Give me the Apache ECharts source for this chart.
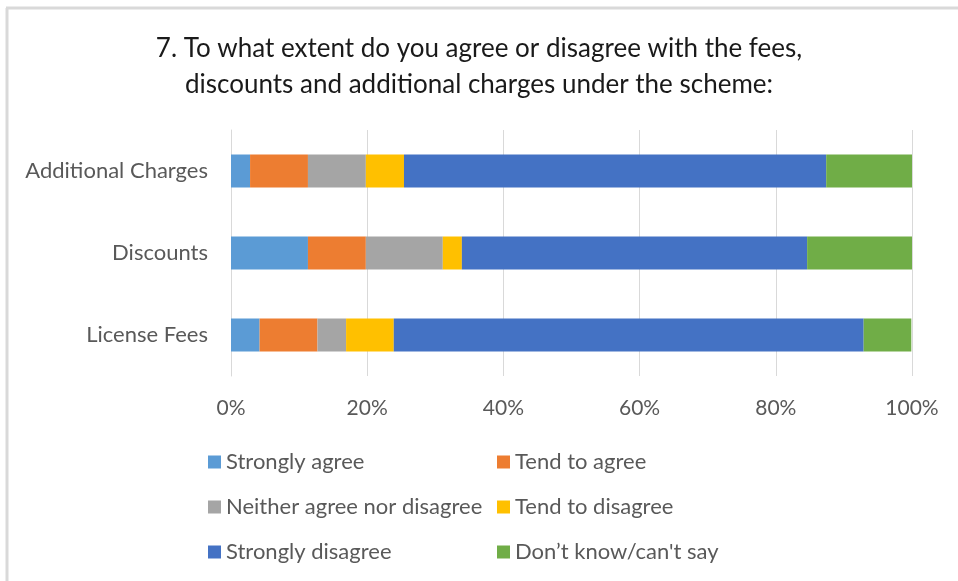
<!DOCTYPE html>
<html>
<head>
<meta charset="utf-8">
<script src="https://cdn.jsdelivr.net/npm/echarts@6/dist/echarts.min.js"></script>
<style>
  html, body { margin: 0; padding: 0; background: #fff; }
  #chart { width: 958px; height: 581px; }
</style>
</head>
<body>
<div id="chart"></div>
<script>
// Survey question 7: responses per topic, as share of respondents (%)
const categories = ['License Fees', 'Discounts', 'Additional Charges'];
const stronglyAgree    = [4.2, 11.3, 2.8];
const tendToAgree      = [8.5, 8.5, 8.5];
const neither          = [4.2, 11.3, 8.5];
const tendToDisagree   = [7.0, 2.8, 5.6];
const stronglyDisagree = [69.0, 50.7, 62.0];
const dontKnow         = [7.0, 15.5, 12.7];
const tickLabels = ['0%', '20%', '40%', '60%', '80%', '100%'];

const seriesDefs = [
  { name: 'Strongly agree', data: stronglyAgree, color: '#5B9BD5' },
  { name: 'Tend to agree', data: tendToAgree, color: '#ED7D31' },
  { name: 'Neither agree nor disagree', data: neither, color: '#A5A5A5' },
  { name: 'Tend to disagree', data: tendToDisagree, color: '#FFC000' },
  { name: 'Strongly disagree', data: stronglyDisagree, color: '#4472C4' },
  { name: 'Don\u2019t know/can\'t say', data: dontKnow, color: '#70AD47' }
];

const FONT = 'Lato';
const grey = '#595959';

const legendText = { color: grey, fontSize: 22, fontFamily: FONT, lineHeight: 22 };
const legendCommon = {
  orient: 'vertical',
  top: 446,
  itemWidth: 13,
  itemHeight: 13,
  itemGap: 23,
  icon: 'rect',
  textStyle: legendText,
  selectedMode: false
};

const chart = echarts.init(document.getElementById('chart'));
chart.setOption({
  backgroundColor: '#ffffff',
  animation: false,
  title: {
    text: '7. To what extent do you agree or disagree with the fees,\ndiscounts and additional charges under the scheme:',
    left: 'center',
    top: 26,
    textStyle: { color: '#1a1a1a', fontSize: 26, fontWeight: 'normal', fontFamily: FONT, lineHeight: 36, align: 'center' }
  },
  legend: [
    Object.assign({ left: 203, data: [seriesDefs[0].name, seriesDefs[2].name, seriesDefs[4].name] }, legendCommon),
    Object.assign({ left: 492, data: [seriesDefs[1].name, seriesDefs[3].name, seriesDefs[5].name] }, legendCommon)
  ],
  grid: { left: 231, right: 46, top: 130, bottom: 205, containLabel: false },
  xAxis: {
    type: 'value',
    min: 0,
    max: 100,
    interval: 20,
    axisLine: { show: false },
    axisTick: { show: false },
    axisLabel: {
      color: grey, fontSize: 21, fontFamily: FONT, margin: 22,
      formatter: v => tickLabels[Math.round(v / 20)]
    },
    splitLine: { show: true, lineStyle: { color: '#d9d9d9', width: 1 } }
  },
  yAxis: {
    type: 'category',
    data: categories,
    axisLine: { show: true, lineStyle: { color: '#d9d9d9', width: 1 } },
    axisTick: { show: false },
    axisLabel: { color: grey, fontSize: 22, fontFamily: FONT, margin: 23 }
  },
  graphic: [
    { type: 'line', shape: { x1: 6, y1: 8, x2: 958, y2: 8 }, style: { stroke: '#d9d9d9', lineWidth: 3 }, silent: true },
    { type: 'line', shape: { x1: 7, y1: 8, x2: 7, y2: 581 }, style: { stroke: '#d9d9d9', lineWidth: 3 }, silent: true }
  ],
  series: seriesDefs.map(s => ({
    name: s.name,
    type: 'bar',
    stack: 'total',
    data: s.data,
    barWidth: 33,
    itemStyle: { color: s.color },
    emphasis: { disabled: true }
  }))
});
</script>
</body>
</html>
